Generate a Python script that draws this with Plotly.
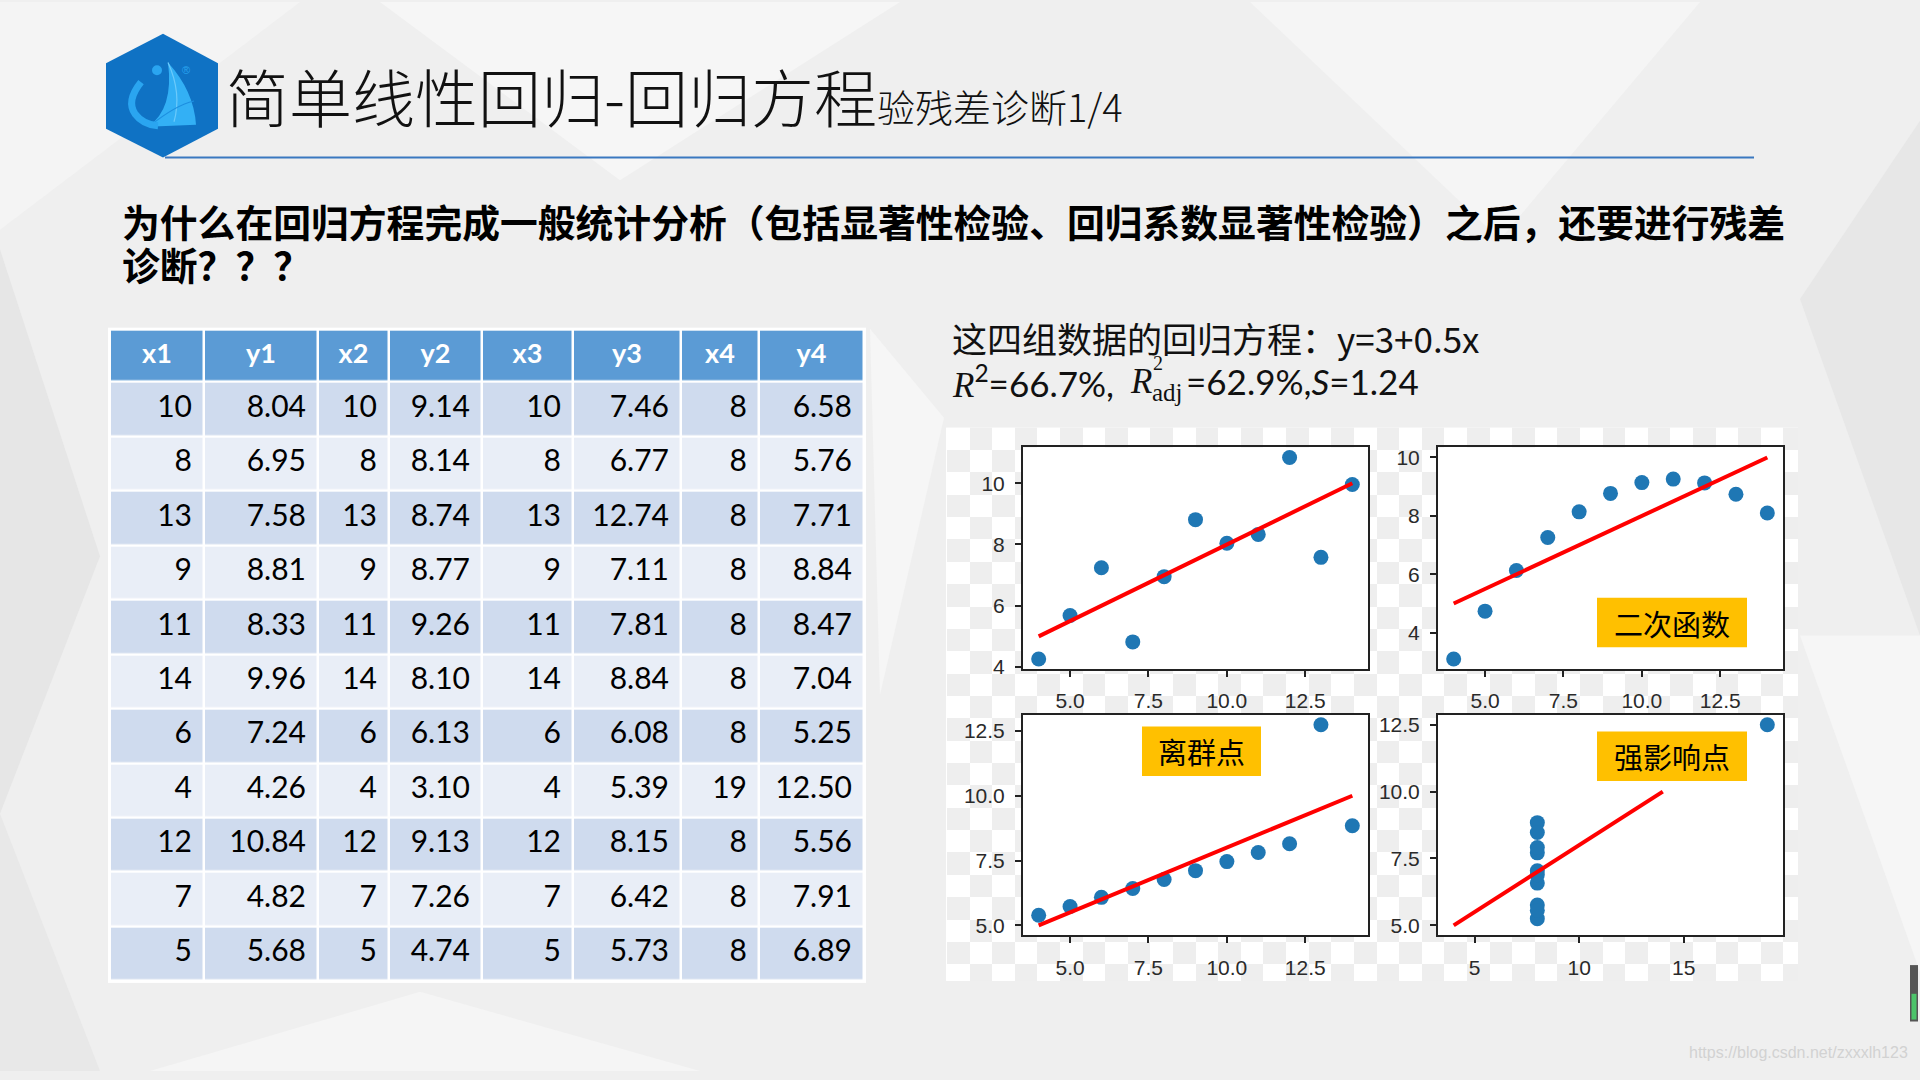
import plotly.graph_objects as go

W, H = 1920, 1080

# ---------------- data (Anscombe's quartet) ----------------
columns = ["x1", "y1", "x2", "y2", "x3", "y3", "x4", "y4"]
x1 = [10, 8, 13, 9, 11, 14, 6, 4, 12, 7, 5]
y1 = [8.04, 6.95, 7.58, 8.81, 8.33, 9.96, 7.24, 4.26, 10.84, 4.82, 5.68]
x2 = [10, 8, 13, 9, 11, 14, 6, 4, 12, 7, 5]
y2 = [9.14, 8.14, 8.74, 8.77, 9.26, 8.10, 6.13, 3.10, 9.13, 7.26, 4.74]
x3 = [10, 8, 13, 9, 11, 14, 6, 4, 12, 7, 5]
y3 = [7.46, 6.77, 12.74, 7.11, 7.81, 8.84, 6.08, 5.39, 8.15, 6.42, 5.73]
x4 = [8, 8, 8, 8, 8, 8, 8, 19, 8, 8, 8]
y4 = [6.58, 5.76, 7.71, 8.84, 8.47, 7.04, 5.25, 12.50, 5.56, 7.91, 6.89]

# fitted line y = 3 + 0.5x, drawn between x = 4 and x = 14
fit_x = [4, 14]
fit_y = [5.0, 10.0]

x_ticks = [[5, 7.5, 10, 12.5], [5, 7.5, 10, 12.5], [5, 7.5, 10, 12.5], [5, 10, 15]]
y_ticks = [[4, 6, 8, 10], [4, 6, 8, 10], [5, 7.5, 10, 12.5], [5, 7.5, 10, 12.5]]
x_fmt = [".1f", ".1f", ".1f", "d"]
y_fmt = ["d", "d", ".1f", ".1f"]
panel_labels = [None, "二次函数", "离群点", "强影响点"]


def px(x):
    return x / W


def py(y):
    return 1 - y / H


def P(x, y):
    return f"{px(x):.5f},{py(y):.5f}"


fig = go.Figure()

# ---------------- checkerboard (transparent-image look) ----------------
cell = 22.6
nx, ny = 38, 25
z = [[(i + j) % 2 for j in range(nx)] for i in range(ny)]
fig.add_trace(go.Heatmap(
    z=z, x0=947 + cell / 2, dx=cell, y0=430 + cell / 2, dy=cell,
    colorscale=[[0, "#ffffff"], [1, "#eeeeee"]], showscale=False,
    hoverinfo="skip", xaxis="x", yaxis="y"))

layout_axes = dict(
    xaxis=dict(domain=[px(946), px(1798)], range=[946, 1798], visible=False, fixedrange=True),
    yaxis=dict(domain=[py(989), py(430)], range=[989, 430], visible=False, fixedrange=True),
)

# ---------------- four scatter panels ----------------
sets = [(x1, y1), (x2, y2), (x3, y3), (x4, y4)]
doms = [((1023, 1368), (450, 674)), ((1438, 1783), (450, 674)),
        ((1023, 1368), (720, 943)), ((1438, 1783), (720, 943))]


def mpl_range(vals):
    lo, hi = min(vals), max(vals)
    m = 0.05 * (hi - lo)
    return [lo - m, hi + m]


for k, (xs, ys) in enumerate(sets):
    n = k + 2
    xa, ya = f"x{n}", f"y{n}"
    fig.add_trace(go.Scatter(x=xs, y=ys, mode="markers", xaxis=xa, yaxis=ya,
                             marker=dict(size=15, color="#1f77b4", line=dict(width=0)),
                             hoverinfo="skip", showlegend=False))
    fig.add_trace(go.Scatter(x=fit_x, y=fit_y, mode="lines", xaxis=xa, yaxis=ya,
                             line=dict(color="#ff0000", width=4),
                             hoverinfo="skip", showlegend=False))
    (dx0, dx1), (dy0, dy1) = doms[k]
    axstyle = dict(showline=True, mirror=True, linecolor="#222222", linewidth=2,
                   ticks="outside", ticklen=6, tickwidth=1.5, tickcolor="#222222",
                   ticklabelstandoff=6,
                   showgrid=False, zeroline=False, fixedrange=True,
                   tickfont=dict(family="Liberation Sans", size=21, color="#2a2a2a"))
    layout_axes[f"xaxis{n}"] = dict(domain=[px(dx0), px(dx1)], range=mpl_range(list(xs) + fit_x),
                                    tickvals=x_ticks[k], tickformat=x_fmt[k],
                                    anchor=ya, **axstyle)
    layout_axes[f"yaxis{n}"] = dict(domain=[py(dy1), py(dy0)], range=mpl_range(list(ys) + fit_y),
                                    tickvals=y_ticks[k], tickformat=y_fmt[k],
                                    anchor=xa, **axstyle)

# ---------------- data table (grid drawn as a heatmap, text on top) ----------------
cell_vals = [[str(v) for v in x1], [f"{v:.2f}" for v in y1],
             [str(v) for v in x2], [f"{v:.2f}" for v in y2],
             [str(v) for v in x3], [f"{v:.2f}" for v in y3],
             [str(v) for v in x4], [f"{v:.2f}" for v in y4]]
col_w = [94, 114, 71, 93, 91, 108, 78, 105]
tx0, ty0, header_h, row_h = 110, 331, 53, 55
nrows = len(x1)
col_edges = [tx0]
for w in col_w:
    col_edges.append(col_edges[-1] + w)
row_edges = [ty0, ty0 + header_h]
for i in range(nrows):
    row_edges.append(row_edges[-1] + row_h)
# 2 = header, 1 = darker band row, 0 = lighter band row
zt = [[2] * len(columns)] + [[1 if i % 2 == 0 else 0] * len(columns) for i in range(nrows)]
fig.add_trace(go.Heatmap(
    z=zt, x=col_edges, y=row_edges, xgap=2.5, ygap=2.5, zmin=0, zmax=2,
    colorscale=[[0, "#e9eef7"], [0.5, "#cfdbee"], [1, "#5b9bd5"]],
    showscale=False, hoverinfo="skip", xaxis="x6", yaxis="y6"))
pad = 12
cx, cy, ct = [], [], []
for c in range(len(columns)):
    for r in range(nrows):
        cx.append(col_edges[c + 1] - pad)
        cy.append((row_edges[r + 1] + row_edges[r + 2]) / 2)
        ct.append(cell_vals[c][r])
fig.add_trace(go.Scatter(x=cx, y=cy, text=ct, mode="text", textposition="middle left",
                         textfont=dict(family="Lato", size=30, color="#000000"),
                         hoverinfo="skip", showlegend=False, xaxis="x6", yaxis="y6"))
fig.add_trace(go.Scatter(x=[(col_edges[c] + col_edges[c + 1]) / 2 for c in range(len(columns))],
                         y=[(row_edges[0] + row_edges[1]) / 2] * len(columns),
                         text=columns, mode="text", textposition="middle center",
                         textfont=dict(family="Lato", size=27, color="#ffffff", weight="bold"),
                         hoverinfo="skip", showlegend=False, xaxis="x6", yaxis="y6"))
layout_axes["xaxis6"] = dict(domain=[px(tx0 - 2), px(col_edges[-1] + 2)],
                             range=[tx0 - 2, col_edges[-1] + 2], visible=False, fixedrange=True)
layout_axes["yaxis6"] = dict(domain=[py(row_edges[-1] + 2), py(ty0 - 2)],
                             range=[row_edges[-1] + 2, ty0 - 2], visible=False, fixedrange=True)

# ---------------- shapes ----------------
shapes = []
# subtle low-poly background
bg_polys = [
    ([(0, 250), (100, 560), (0, 820)], "#e6e6e6"),
    ([(0, 820), (100, 1080), (0, 1080)], "#e8e8e8"),
    ([(150, 1080), (420, 1000), (700, 1080)], "#f5f5f5"),
    ([(380, 0), (900, 0), (620, 180)], "#f6f6f6"),
    ([(1250, 0), (1700, 0), (1500, 240)], "#f5f5f5"),
    ([(1800, 300), (1920, 120), (1920, 640)], "#e7e7e7"),
    ([(1800, 640), (1920, 640), (1920, 980)], "#f6f6f6"),
    ([(0, 0), (300, 0), (0, 230)], "#f4f4f4"),
    ([(870, 330), (944, 420), (880, 700)], "#f6f6f6"),
]
for pts, col in bg_polys:
    shapes.append(dict(type="path", xref="paper", yref="paper", layer="below",
                       path="M " + " L ".join(P(*p) for p in pts) + " Z",
                       fillcolor=col, line=dict(width=0)))

# logo hexagon
hexa = [(163, 32), (218, 62), (218, 128), (163, 157), (106, 128), (106, 62)]
shapes.append(dict(type="path", xref="paper", yref="paper", layer="above",
                   path="M " + " L ".join(P(*p) for p in hexa) + " Z",
                   fillcolor="#0f72c4", line=dict(width=0)))
# sail
shapes.append(dict(type="path", xref="paper", yref="paper", layer="above",
                   path=f"M {P(168, 61)} Q {P(194, 90)} {P(196, 124)} L {P(148, 126)} Q {P(174, 108)} {P(168, 61)} Z",
                   fillcolor="#33b0f5", line=dict(width=0)))
shapes.append(dict(type="path", xref="paper", yref="paper", layer="above",
                   path=f"M {P(168, 61)} Q {P(182, 92)} {P(174, 121)}",
                   line=dict(color="#6ccafb", width=1.2)))
shapes.append(dict(type="path", xref="paper", yref="paper", layer="above",
                   path=f"M {P(150, 125)} Q {P(176, 104)} {P(194, 100)}",
                   line=dict(color="#1d8fe0", width=1.2)))
# "i" stroke and dot
shapes.append(dict(type="path", xref="paper", yref="paper", layer="above",
                   path=f"M {P(141, 81)} Q {P(126, 100)} {P(135, 113)} Q {P(143, 124)} {P(158, 125)}",
                   line=dict(color="#2aa5f0", width=7)))
shapes.append(dict(type="circle", xref="paper", yref="paper", layer="above",
                   x0=px(152), x1=px(162), y0=py(74), y1=py(64),
                   fillcolor="#2aa5f0", line=dict(width=0)))

# blue rule under title
shapes.append(dict(type="line", xref="paper", yref="paper", layer="above",
                   x0=px(165), x1=px(1754), y0=py(157), y1=py(157),
                   line=dict(color="#3a78c0", width=2)))

# yellow label boxes
label_boxes = [None, (1597, 1747, 602, 652), (1142, 1261, 732, 782), (1597, 1747, 737, 787)]
for box in label_boxes:
    if box is None:
        continue
    bx0, bx1, by0, by1 = box
    shapes.append(dict(type="rect", xref="paper", yref="paper", layer="above",
                       x0=px(bx0), x1=px(bx1), y0=py(by1), y1=py(by0),
                       fillcolor="#ffc000", line=dict(width=0)))

# scroll indicator at the right edge
shapes.append(dict(type="rect", xref="paper", yref="paper", layer="above",
                   x0=px(1910), x1=px(1918), y0=py(1030), y1=py(973),
                   fillcolor="#555555", line=dict(width=0)))
shapes.append(dict(type="rect", xref="paper", yref="paper", layer="above",
                   x0=px(1911.5), x1=px(1916.5), y0=py(1028), y1=py(1002),
                   fillcolor="#4cc46a", line=dict(width=0)))

# ---------------- annotations ----------------
CJK = "Noto Sans CJK SC"
ann = []


def A(text, x, y, size, family=CJK, color="#111111", xanchor="left", yanchor="middle", weight=None):
    f = dict(family=family, size=size, color=color)
    if weight is not None:
        f["weight"] = weight
    ann.append(dict(text=text, x=px(x), y=py(y), xref="paper", yref="paper",
                    xanchor=xanchor, yanchor=yanchor, showarrow=False, font=f))


A("简单线性回归-回归方程<span style=\"font-size:38px\">验残差诊断1/4</span>", 224, 93, 63, weight=300)
A("®", 186, 69, 11, family="Liberation Sans", color="#2aa5f0", xanchor="center")
A("为什么在回归方程完成一般统计分析（包括显著性检验、回归系数显著性检验）之后，还要进行残差",
  120, 221, 37.8, color="#000000", weight="bold")
A("诊断？？？", 120, 264, 37.8, color="#000000", weight="bold")

A("这四组数据的回归方程：y=3+0.5x", 950, 339, 35, family=CJK)
serif = "Liberation Serif"
A(f"<span style=\"font-family:{serif}\"><i>R</i></span><sup>2</sup>=66.7%,", 950, 383, 35, family="Lato")
A(f"<span style=\"font-family:{serif}\"><i>R</i></span>", 1128, 383, 35, family="Lato")
A("2", 1151, 365, 20, family=serif)
A("adj", 1150, 395, 25, family=serif)
A("=62.9%,<i>S</i>=1.24", 1184, 383, 35, family="Lato")

for k, lab in enumerate(panel_labels):
    if lab is None:
        continue
    bx0, bx1, by0, by1 = label_boxes[k]
    A(lab, (bx0 + bx1) / 2, (by0 + by1) / 2, 29, color="#000000", xanchor="center")

A("https://blog.csdn.net/zxxxlh123", 1910, 1061, 16, family="Liberation Sans",
  color="#d2d2d2", xanchor="right")

fig.update_layout(
    width=W, height=H, margin=dict(l=0, r=0, t=0, b=0),
    paper_bgcolor="#efefef", plot_bgcolor="#ffffff",
    showlegend=False, shapes=shapes, annotations=ann,
    **layout_axes,
)

fig.write_html("out.html", config={"displayModeBar": False},
               post_script="document.body.style.margin='0';document.body.style.overflow='hidden';")
